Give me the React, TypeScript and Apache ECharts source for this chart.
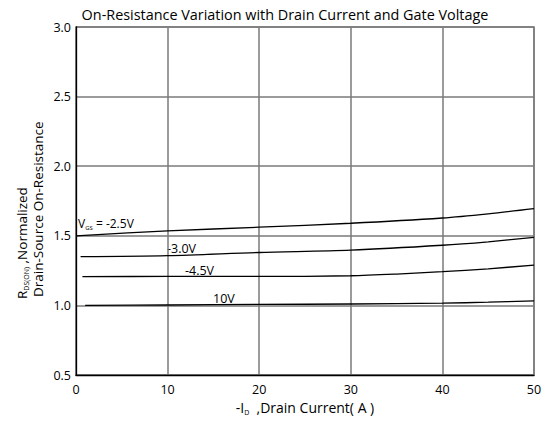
import React, { useEffect, useRef } from "react";
import * as echarts from "echarts";

const xTicks = [0, 10, 20, 30, 40, 50];
const yTicks = [0.5, 1.0, 1.5, 2.0, 2.5, 3.0];

const seriesNames = ["-2.5V", "-3.0V", "-4.5V", "10V"];

const vgs25X = [0, 10, 20, 30, 40, 45, 50];
const vgs25Y = [1.5, 1.535, 1.562, 1.59, 1.628, 1.658, 1.695];

const vgs30X = [0.5, 10, 20, 30, 40, 45, 50];
const vgs30Y = [1.35, 1.357, 1.38, 1.397, 1.432, 1.457, 1.488];

const vgs45X = [0.7, 10, 20, 30, 35, 40, 45, 50];
const vgs45Y = [1.207, 1.208, 1.208, 1.213, 1.225, 1.242, 1.263, 1.289];

const vgs10X = [1, 10, 20, 30, 40, 45, 50];
const vgs10Y = [1.0, 1.003, 1.007, 1.01, 1.016, 1.023, 1.033];

const FONT = "Open Sans";

export default function App() {
  const ref = useRef<HTMLDivElement>(null);
  useEffect(() => {
    document.body.style.margin = "0";
    document.body.style.overflow = "hidden";
    if (!ref.current) return;
    const chart = echarts.init(ref.current, undefined, { renderer: "svg" });
    const xs = [vgs25X, vgs30X, vgs45X, vgs10X];
    const ys = [vgs25Y, vgs30Y, vgs45Y, vgs10Y];
    const series = seriesNames.map((name, i) => ({
      name,
      type: "line",
      data: xs[i].map((x, j) => [x, ys[i][j]]),
      smooth: 0.3,
      showSymbol: false,
      lineStyle: { color: "#000", width: 1.3 },
      silent: true,
    }));
    const richYT = {
      a: { fontFamily: FONT, fontSize: 13.5, fill: "#000", lineHeight: 16 },
      s: { fontFamily: FONT, fontSize: 7, fill: "#000", verticalAlign: "bottom", lineHeight: 11 },
    };
    chart.setOption({
      animation: false,
      title: {
        text: "On-Resistance Variation with Drain Current and Gate Voltage",
        left: 280,
        textAlign: "center",
        top: 2,
        textStyle: { fontFamily: FONT, fontSize: 14.4, fontWeight: "normal", color: "#000" },
      },
      grid: {
        left: 76,
        right: 13,
        top: 27,
        bottom: 46,
        show: true,
        borderColor: "#7a7a7a",
        borderWidth: 1.5,
      },
      xAxis: {
        type: "value",
        min: xTicks[0],
        max: xTicks[xTicks.length - 1],
        interval: 10,
        axisLine: { show: true, lineStyle: { color: "#000", width: 1.3 } },
        axisTick: { show: false },
        splitLine: { show: true, lineStyle: { color: "#7a7a7a", width: 1.5 } },
        axisLabel: {
          fontFamily: FONT,
          fontSize: 12.5,
          color: "#000",
          margin: 8,
        },
        name: "{a|-I}{s|D}{a|  ,Drain Current( A )}",
        nameLocation: "middle",
        nameGap: 20,
        nameTextStyle: {
          rich: {
            a: { fontFamily: FONT, fontSize: 14, color: "#000", lineHeight: 16 },
            s: { fontFamily: FONT, fontSize: 7, color: "#000", verticalAlign: "bottom", lineHeight: 12 },
          },
        },
      },
      yAxis: {
        type: "value",
        min: yTicks[0],
        max: yTicks[yTicks.length - 1],
        interval: 0.5,
        axisLine: { show: true, lineStyle: { color: "#000", width: 1.3 } },
        axisTick: { show: false },
        splitLine: { show: true, lineStyle: { color: "#7a7a7a", width: 1.5 } },
        axisLabel: {
          fontFamily: FONT,
          fontSize: 12.5,
          color: "#000",
          margin: 5,
          formatter: (v: number) => v.toFixed(1),
        },
      },
      graphic: [
        {
          type: "text",
          x: 22,
          y: 299,
          rotation: Math.PI / 2,
          style: {
            text: "{a|R}{s|DS(ON)}{a| ,Normalized}",
            align: "left",
            verticalAlign: "middle",
            rich: richYT,
          },
        },
        {
          type: "text",
          x: 38,
          y: 297,
          rotation: Math.PI / 2,
          style: {
            text: "Drain-Source On-Resistance",
            align: "left",
            verticalAlign: "middle",
            font: `13.5px "${FONT}"`,
            fill: "#000",
          },
        },
        {
          type: "text",
          left: 78,
          top: 217,
          style: {
            text: "{a|V}{s|GS}{a| = -2.5V}",
            rich: {
              a: { fontFamily: FONT, fontSize: 12, fill: "#000", lineHeight: 15 },
              s: { fontFamily: FONT, fontSize: 6, fill: "#000", verticalAlign: "bottom", lineHeight: 11 },
            },
          },
        },
        { type: "text", left: 167, top: 242, style: { text: "-3.0V", font: `12.5px "${FONT}"`, fill: "#000" } },
        { type: "text", left: 185, top: 264, style: { text: "-4.5V", font: `12.5px "${FONT}"`, fill: "#000" } },
        { type: "text", left: 213, top: 292, style: { text: "10V", font: `12.5px "${FONT}"`, fill: "#000" } },
      ],
      series,
    });
    return () => chart.dispose();
  }, []);
  return <div ref={ref} style={{ width: 547, height: 421 }} />;
}
